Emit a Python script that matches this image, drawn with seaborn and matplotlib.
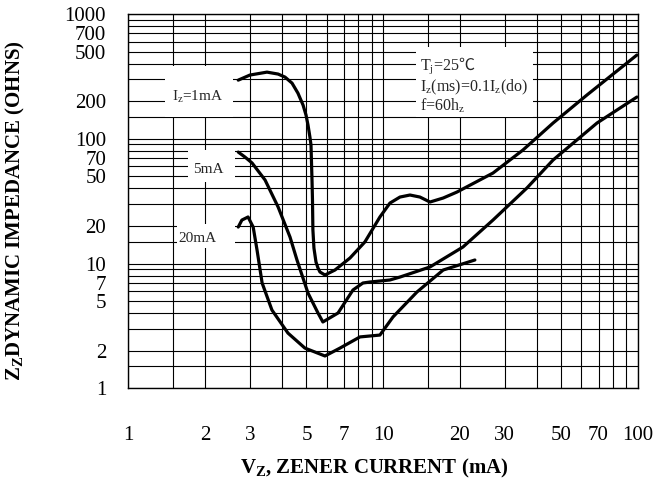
import numpy as np
import pandas as pd
import matplotlib
matplotlib.use("Agg")
import matplotlib.pyplot as plt
import seaborn as sns
from matplotlib.patches import Rectangle
from matplotlib.ticker import FixedLocator, NullFormatter

# ---------------- data ----------------
current_1ma = [2.70, 3.00, 3.50, 3.87, 4.12, 4.39, 4.63, 4.85, 4.98, 5.07, 5.16, 5.21,
               5.26, 5.28, 5.30, 5.35, 5.45, 5.55, 5.65, 5.91, 6.47, 7.41, 8.48, 9.71,
               10.63, 11.64, 12.74, 13.94, 15.26, 17.2, 19.48, 26.97, 35.35, 46.4, 63.0, 99.0]
imped_1ma = [295, 324, 342, 330, 312, 279, 232, 186, 155, 129, 103, 89,
             45, 32.3, 18.6, 13.3, 10.28, 9.2, 8.55, 8.09, 8.87, 11.07, 14.9, 23.6,
             30.5, 34.1, 35.4, 34.1, 31.1, 33.5, 37.4, 53.1, 81.2, 133.6, 224, 469]

current_5ma = [2.70, 2.87, 3.06, 3.44, 3.87, 4.31, 4.59, 5.07, 5.55, 5.80, 6.65, 7.61,
               8.33, 8.88, 9.71, 10.63, 11.64, 15.26, 20.56, 26.97, 36.65, 46.4, 69.0, 99.0]
imped_5ma = [78.2, 71.3, 63.9, 46.7, 28.4, 16.3, 10.67, 5.80, 4.01, 3.40, 4.01, 6.13,
             6.98, 7.11, 7.24, 7.38, 7.79, 9.38, 13.56, 22.3, 40.3, 67.5, 133.6, 216]

current_20ma = [2.70, 2.79, 2.95, 3.09, 3.20, 3.35, 3.66, 4.23, 4.93, 5.91, 6.77, 8.11,
                9.71, 10.93, 13.57, 17.2, 22.9]
imped_20ma = [19.6, 22.3, 23.6, 19.6, 12.8, 6.98, 4.24, 2.77, 2.10, 1.815, 2.10, 2.58,
              2.67, 3.73, 5.91, 8.87, 10.67]

series_names = ["1mA", "5mA", "20mA"]

x_ticks = [1, 2, 3, 5, 7, 10, 20, 30, 50, 70, 100]
x_tick_labels = ["1", "2", "3", "5", "7", "10", "20", "30", "50", "70", "100"]
x_minor = [1.5, 4, 6, 8, 9, 15, 40, 60, 80, 90]

y_ticks = [1, 2, 5, 7, 10, 20, 50, 70, 100, 200, 500, 700, 1000]
y_tick_labels = ["1", "2", "5", "7", "10", "20", "50", "70", "100", "200", "500", "700", "1000"]
y_minor = [1.5, 3, 4, 6, 8, 9, 15, 30, 40, 60, 80, 90, 150, 300, 400, 600, 800, 900]

df = pd.concat([
    pd.DataFrame({"current": current_1ma, "impedance": imped_1ma, "series": series_names[0]}),
    pd.DataFrame({"current": current_5ma, "impedance": imped_5ma, "series": series_names[1]}),
    pd.DataFrame({"current": current_20ma, "impedance": imped_20ma, "series": series_names[2]}),
], ignore_index=True)

# ---------------- style ----------------
sns.set_theme(style="white")
plt.rcParams["font.family"] = ["Liberation Serif", "DejaVu Serif", "DejaVu Sans"]
plt.rcParams["mathtext.fontset"] = "custom"
plt.rcParams["mathtext.rm"] = "Liberation Serif"
plt.rcParams["mathtext.it"] = "Liberation Serif:italic"
plt.rcParams["mathtext.bf"] = "Liberation Serif:bold"
plt.rcParams["mathtext.sf"] = "Noto Sans CJK JP"

fig = plt.figure(figsize=(6.56, 4.79), dpi=100)
ax = fig.add_axes([0.1956, 0.1894, 0.777, 0.7814])

for name in series_names:
    sub = df[df["series"] == name]
    sns.lineplot(data=sub, x="current", y="impedance", sort=False, estimator=None,
                 color="black", linewidth=2.3, ax=ax, legend=False, zorder=3)

ax.set_xscale("log")
ax.set_yscale("log")
ax.set_xlim(1, 100)
ax.set_ylim(1, 1000)

ax.set_xticks(x_ticks)
ax.set_xticklabels(x_tick_labels)
ax.xaxis.set_minor_locator(FixedLocator(x_minor))
ax.xaxis.set_minor_formatter(NullFormatter())
ax.set_yticks(y_ticks)
ax.set_yticklabels(y_tick_labels)
ax.yaxis.set_minor_locator(FixedLocator(y_minor))
ax.yaxis.set_minor_formatter(NullFormatter())

ax.tick_params(which="both", length=0)
ax.tick_params(axis="x", pad=27, labelsize=15, colors="black")
ax.tick_params(axis="y", pad=16, labelsize=15, colors="black")

ax.set_axisbelow(True)
ax.grid(True, which="both", color="black", linewidth=0.8)
for s in ax.spines.values():
    s.set_color("black")
    s.set_linewidth(1.0)

ax.set_xlabel(r"$\mathbf{V_Z}$, ZENER CURRENT (mA)", fontsize=15, fontweight="bold", color="black")
ax.set_ylabel(r"$\mathbf{Z_Z}$DYNAMIC IMPEDANCE (OHNS)", fontsize=15, fontweight="bold", color="black")
ax.xaxis.set_label_coords(0.482, -0.183)
ax.yaxis.set_label_coords(-0.199, 0.474)

# white boxes behind the labels
boxes = [
    (0.0723, 0.7248, 0.1334, 0.1360),   # 1mA
    (0.1171, 0.5512, 0.0922, 0.0855),   # 5mA
    (0.0955, 0.3748, 0.1138, 0.0641),   # 20mA
    (0.5645, 0.7248, 0.2296, 0.1870),   # conditions
]
for (bx, by, bw, bh) in boxes:
    ax.add_patch(Rectangle((bx, by), bw, bh, transform=ax.transAxes,
                           facecolor="white", edgecolor="none", zorder=1.5))

ax.text(0.0851, 0.7684, r"I$_\mathrm{z}$=1mA", transform=ax.transAxes,
        fontsize=11, va="baseline", ha="left", zorder=4)
ax.text(0.127, 0.575, "5mA", transform=ax.transAxes,
        fontsize=11, va="baseline", ha="left", zorder=4)
ax.text(0.0975, 0.3909, "20mA", transform=ax.transAxes,
        fontsize=11, va="baseline", ha="left", zorder=4)

ax.text(0.5723, 0.8504, r"T$_\mathrm{j}$=25$\mathsf{℃}$", transform=ax.transAxes,
        fontsize=11.5, va="baseline", ha="left", zorder=4)
ax.text(0.5723, 0.7943, r"I$_\mathrm{z}$(ms)=0.1I$_\mathrm{z}$(do)", transform=ax.transAxes,
        fontsize=11.5, va="baseline", ha="left", zorder=4)
ax.text(0.5723, 0.7408, r"f=60h$_\mathrm{z}$", transform=ax.transAxes,
        fontsize=11.5, va="baseline", ha="left", zorder=4)

fig.savefig("out.png", dpi=100, facecolor="white")
